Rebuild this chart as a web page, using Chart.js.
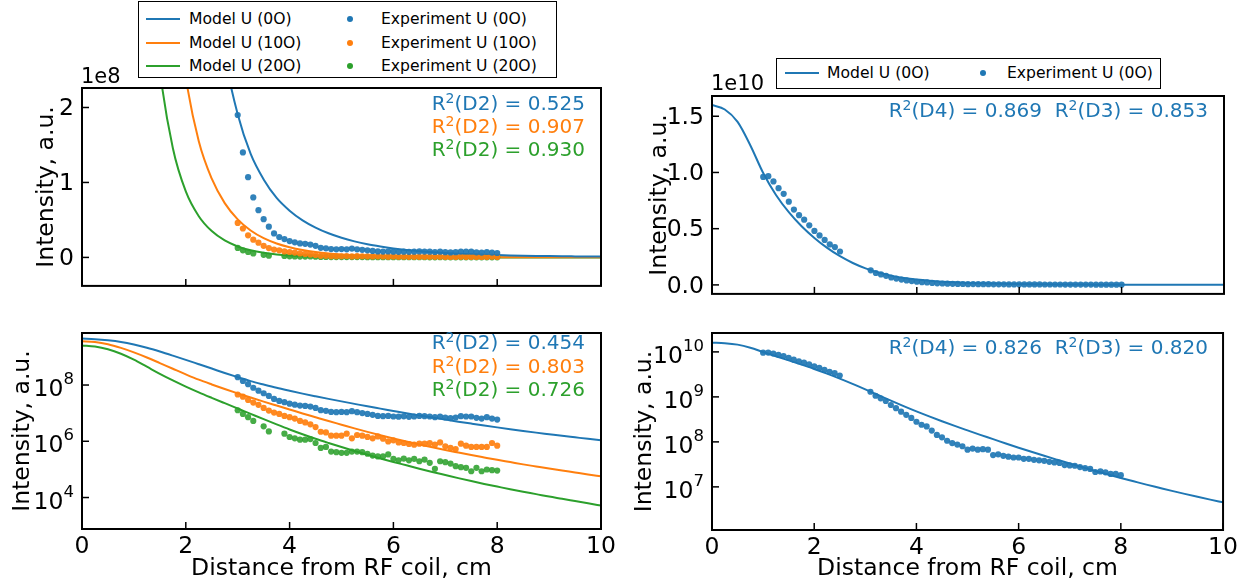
<!DOCTYPE html>
<html><head><meta charset="utf-8">
<script src="https://cdn.jsdelivr.net/npm/chart.js@4.4.1/dist/chart.umd.min.js"></script>
<style>
html,body{margin:0;padding:0;background:#fff;}
body{width:1242px;height:583px;position:relative;overflow:hidden;font-family:'DejaVu Sans',sans-serif;color:#000;}
canvas{position:absolute;}
.t{position:absolute;white-space:nowrap;line-height:20px;}
.r2{font-size:20px;text-align:right;}
.r2 sup{font-size:70%;vertical-align:0.5em;line-height:0;}
.off{font-size:21px;}
.lg{position:absolute;border:1.5px solid #000;background:#fff;box-sizing:border-box;}
.li{position:absolute;white-space:nowrap;font-size:15.6px;line-height:18px;}
.ln{position:absolute;height:2px;}
.dt{position:absolute;width:6px;height:6px;border-radius:50%;}
</style></head>
<body>
<canvas id="cTL" width="620" height="250" style="left:0;top:58px"></canvas>
<canvas id="cBL" width="620" height="270" style="left:0;top:313px"></canvas>
<canvas id="cTR" width="622" height="250" style="left:620px;top:66px"></canvas>
<canvas id="cBR" width="622" height="270" style="left:620px;top:313px"></canvas>

<!-- left legend -->
<div class="lg" style="left:138px;top:1px;width:419px;height:77px"></div>
<div class="ln" style="left:146px;top:18px;width:34px;background:#1f77b4"></div>
<div class="ln" style="left:146px;top:42px;width:34px;background:#ff7f0e"></div>
<div class="ln" style="left:146px;top:65px;width:34px;background:#2ca02c"></div>
<div class="li" style="left:189px;top:10px">Model U (0O)</div>
<div class="li" style="left:189px;top:34px">Model U (10O)</div>
<div class="li" style="left:189px;top:57px">Model U (20O)</div>
<div class="dt" style="left:347px;top:16px;background:#1f77b4"></div>
<div class="dt" style="left:347px;top:40px;background:#ff7f0e"></div>
<div class="dt" style="left:347px;top:63px;background:#2ca02c"></div>
<div class="li" style="left:381px;top:10px">Experiment U (0O)</div>
<div class="li" style="left:381px;top:34px">Experiment U (10O)</div>
<div class="li" style="left:381px;top:57px">Experiment U (20O)</div>

<!-- right legend -->
<div class="lg" style="left:776px;top:58px;width:385px;height:31px"></div>
<div class="ln" style="left:785px;top:72px;width:34px;background:#1f77b4"></div>
<div class="li" style="left:827px;top:64px">Model U (0O)</div>
<div class="dt" style="left:980px;top:70px;background:#1f77b4"></div>
<div class="li" style="left:1007px;top:64px">Experiment U (0O)</div>

<!-- offsets -->
<div class="t off" style="left:81px;top:66px">1e8</div>
<div class="t off" style="left:711px;top:73px">1e10</div>

<!-- R2 annotations -->
<div class="t r2" style="right:657px;top:93px;color:#1f77b4">R<sup>2</sup>(D2) = 0.525</div>
<div class="t r2" style="right:657px;top:116px;color:#ff7f0e">R<sup>2</sup>(D2) = 0.907</div>
<div class="t r2" style="right:657px;top:139px;color:#2ca02c">R<sup>2</sup>(D2) = 0.930</div>
<div class="t r2" style="right:657px;top:332px;color:#1f77b4">R<sup>2</sup>(D2) = 0.454</div>
<div class="t r2" style="right:657px;top:356px;color:#ff7f0e">R<sup>2</sup>(D2) = 0.803</div>
<div class="t r2" style="right:657px;top:379px;color:#2ca02c">R<sup>2</sup>(D2) = 0.726</div>
<div class="t r2" style="right:34px;top:100px;color:#1f77b4">R<sup>2</sup>(D4) = 0.869&nbsp;&nbsp;R<sup>2</sup>(D3) = 0.853</div>
<div class="t r2" style="right:34px;top:337px;color:#1f77b4">R<sup>2</sup>(D4) = 0.826&nbsp;&nbsp;R<sup>2</sup>(D3) = 0.820</div>

<script>
// ---------- data ----------
const xModel = [0,0.25,0.5,0.75,1,1.25,1.5,1.75,2,2.25,2.5,2.75,3,3.25,3.5,3.75,4,4.25,4.5,4.75,5,5.25,5.5,5.75,6,6.25,6.5,6.75,7,7.25,7.5,7.75,8,8.25,8.5,8.75,9,9.25,9.5,9.75,10];
const modelU0 = [4.47e9,4.27e9,3.89e9,3.39e9,2.75e9,2.11e9,1.55e9,1.11e9,7.85e8,5.50e8,3.85e8,2.69e8,1.91e8,1.38e8,1.04e8,7.94e7,6.24e7,4.95e7,3.98e7,3.22e7,2.62e7,2.14e7,1.75e7,1.45e7,1.20e7,9.95e6,8.32e6,6.98e6,5.89e6,4.99e6,4.25e6,3.63e6,3.12e6,2.69e6,2.33e6,2.03e6,1.78e6,1.56e6,1.38e6,1.22e6,1.09e6];
const modelU10 = [3.63e9,3.39e9,2.82e9,2.09e9,1.45e9,9.55e8,6.03e8,3.80e8,2.40e8,1.55e8,1.05e8,7.24e7,5.07e7,3.59e7,2.57e7,1.86e7,1.35e7,9.77e6,7.16e6,5.25e6,3.89e6,2.88e6,2.16e6,1.64e6,1.26e6,9.77e5,7.67e5,6.10e5,4.90e5,3.98e5,3.24e5,2.66e5,2.19e5,1.82e5,1.51e5,1.27e5,1.07e5,9.12e4,7.76e4,6.61e4,5.69e4];
const modelU20 = [2.57e9,2.34e9,1.86e9,1.29e9,7.94e8,4.47e8,2.51e8,1.46e8,8.81e7,5.50e7,3.51e7,2.26e7,1.46e7,9.44e6,6.10e6,3.98e6,2.63e6,1.78e6,1.23e6,8.71e5,6.24e5,4.52e5,3.31e5,2.45e5,1.84e5,1.40e5,1.06e5,8.13e4,6.31e4,4.90e4,3.85e4,3.05e4,2.45e4,1.97e4,1.60e4,1.32e4,1.08e4,9.02e3,7.50e3,6.24e3,5.19e3];

const xExp = [3.0,3.1,3.2,3.3,3.4,3.5,3.6,3.7,3.8,3.9,4.0,4.1,4.2,4.3,4.4,4.5,4.6,4.7,4.8,4.9,5.0,5.1,5.2,5.3,5.4,5.5,5.6,5.7,5.8,5.9,6.0,6.1,6.2,6.3,6.4,6.5,6.6,6.7,6.8,6.9,7.0,7.1,7.2,7.3,7.4,7.5,7.6,7.7,7.8,7.9,8.0];
const expU0 = [1.9e8,1.4e8,1.07e8,8.0e7,6.3e7,5.1e7,4.1e7,3.2e7,2.72e7,2.45e7,2.18e7,2.01e7,1.86e7,1.81e7,1.71e7,1.54e7,1.28e7,1.21e7,1.11e7,1.08e7,1.11e7,1.08e7,1.18e7,1.08e7,1.01e7,9.4e6,8.7e6,8.0e6,7.8e6,8.0e6,7.6e6,7.5e6,7.7e6,7.4e6,7.6e6,8.0e6,7.8e6,7.6e6,7.2e6,7.6e6,7.0e6,6.7e6,7.0e6,7.8e6,7.6e6,7.6e6,6.8e6,6.4e6,7.2e6,6.4e6,5.9e6];
const expU10 = [4.6e7,3.86e7,2.95e7,2.37e7,1.97e7,1.54e7,1.24e7,1.05e7,9.4e6,8.0e6,7.2e6,6.4e6,5.3e6,4.7e6,4.0e6,3.2e6,2.18e6,2.06e6,1.58e6,1.58e6,1.58e6,1.86e6,1.27e6,1.67e6,1.58e6,1.43e6,1.27e6,1.49e6,1.24e6,9.9e5,1.08e6,9.1e5,8.7e5,8.0e5,7.6e5,8.2e5,8.2e5,8.7e5,7.6e5,9.1e5,6.6e5,5.8e5,5.3e5,8.2e5,7.0e5,6.3e5,6.3e5,6.3e5,6.3e5,8.7e5,7.0e5];
const expU20 = [1.27e7,9.4e6,7.2e6,5.3e6,null,3.4e6,2.24e6,null,null,1.86e6,1.42e6,1.27e6,1.14e6,1.14e6,1.2e6,8.7e5,5.8e5,6.3e5,4.3e5,4.1e5,3.9e5,3.9e5,4.3e5,4.3e5,4.1e5,3.6e5,3.1e5,2.9e5,2.9e5,3.4e5,2.37e5,2.1e5,2.43e5,2.1e5,2.37e5,1.95e5,2.24e5,1.71e5,1.05e5,1.95e5,1.8e5,1.61e5,1.3e5,1.2e5,1.14e5,8.6e4,1.14e5,8.6e4,9.9e4,9.4e4,9.1e4];

const modelR = [1.60e10,1.56e10,1.45e10,1.24e10,9.95e9,8.0e9,6.47e9,5.22e9,4.18e9,3.29e9,2.55e9,1.95e9,1.47e9,1.10e9,8.24e8,6.22e8,4.75e8,3.68e8,2.88e8,2.27e8,1.80e8,1.43e8,1.15e8,9.2e7,7.43e7,6.03e7,4.91e7,4.02e7,3.30e7,2.73e7,2.26e7,1.89e7,1.58e7,1.33e7,1.12e7,9.55e6,8.15e6,6.98e6,6.01e6,5.2e6,4.52e6];
const xExpR = [1.0,1.1,1.2,1.3,1.4,1.5,1.6,1.7,1.8,1.9,2.0,2.1,2.2,2.3,2.4,2.5,3.1,3.2,3.3,3.4,3.5,3.6,3.7,3.8,3.9,4.0,4.1,4.2,4.3,4.4,4.5,4.6,4.7,4.8,4.9,5.0,5.1,5.2,5.3,5.4,5.5,5.6,5.7,5.8,5.9,6.0,6.1,6.2,6.3,6.4,6.5,6.6,6.7,6.8,6.9,7.0,7.1,7.2,7.3,7.4,7.5,7.6,7.7,7.8,7.9,8.0];
const expR = [9.6e9,9.67e9,9.2e9,8.6e9,8.1e9,7.4e9,6.7e9,6.2e9,5.8e9,5.3e9,4.8e9,4.4e9,4.0e9,3.6e9,3.36e9,2.97e9,1.30e9,1.06e9,9.3e8,8.1e8,6.6e8,5.6e8,4.7e8,4.0e8,3.4e8,2.8e8,2.4e8,2.2e8,1.78e8,1.43e8,1.26e8,1.06e8,9.4e7,8.7e7,8.0e7,6.7e7,7.1e7,6.7e7,6.9e7,6.7e7,5.1e7,5.3e7,4.9e7,4.7e7,4.5e7,4.5e7,4.2e7,4.2e7,4.0e7,3.9e7,3.8e7,3.6e7,3.5e7,3.4e7,3.05e7,3.0e7,2.95e7,2.76e7,2.6e7,2.5e7,2.14e7,2.2e7,2.1e7,1.94e7,1.94e7,1.82e7];

// ---------- ticks ----------
const xTicks = [0,2,4,6,8,10];
const xTickLabels = ['0','2','4','6','8','10'];
const yTicksTL = [0,1e8,2e8];
const yTickLabelsTL = ['0','1','2'];
const yTicksBL = [1e4,1e6,1e8];
const yTickLabelsBL = ['10^4','10^6','10^8'];
const yTicksTR = [0,0.5e10,1.0e10,1.5e10];
const yTickLabelsTR = ['0.0','0.5','1.0','1.5'];
const yTicksBR = [1e7,1e8,1e9,1e10];
const yTickLabelsBR = ['10^7','10^8','10^9','10^10'];

const C0='#1f77b4', C1='#ff7f0e', C2='#2ca02c';
const C0a='rgba(31,119,180,0.92)', C1a='rgba(255,127,14,0.92)', C2a='rgba(44,160,44,0.88)';
const FS = 23.5;

Chart.defaults.font.family = "'DejaVu Sans', sans-serif";
Chart.defaults.color = '#000';
Chart.defaults.animation = false;

const xy = (xs, ys) => xs.map((x,i)=>({x:x, y:ys[i]}));

const framePlugin = {
  id:'frame',
  afterDraw(chart, args, o){
    const {ctx, chartArea:a, scales} = chart;
    ctx.save();
    ctx.strokeStyle = '#000';
    ctx.lineWidth = 1.5;
    const tl = 7;
    o.xTicks.forEach(v=>{
      const p = scales.x.getPixelForValue(v);
      ctx.beginPath(); ctx.moveTo(p, a.bottom); ctx.lineTo(p, a.bottom - tl); ctx.stroke();
    });
    o.yTicks.forEach(v=>{
      const p = scales.y.getPixelForValue(v);
      ctx.beginPath(); ctx.moveTo(a.left, p); ctx.lineTo(a.left + tl, p); ctx.stroke();
    });
    ctx.lineWidth = 2;
    ctx.strokeRect(a.left, a.top, a.right - a.left, a.bottom - a.top);
    if (o.logLabels) {
      ctx.fillStyle = '#000';
      ctx.textAlign = 'right';
      ctx.textBaseline = 'alphabetic';
      o.yTicks.forEach((v,i)=>{
        const parts = o.logLabels[i].split('^');
        const p = scales.y.getPixelForValue(v);
        const xr = a.left - 8;
        ctx.font = "16.5px 'DejaVu Sans'";
        ctx.fillText(parts[1], xr, p - 1);
        const ew = ctx.measureText(parts[1]).width;
        ctx.font = FS + "px 'DejaVu Sans'";
        ctx.fillText(parts[0], xr - ew, p + 11);
      });
    }
    ctx.restore();
  }
};

function lineDs(xs, ys, color){
  return {type:'scatter', data: xy(xs, ys), showLine:true, borderColor:color, backgroundColor:color,
          borderWidth:2, pointRadius:0, pointHoverRadius:0, cubicInterpolationMode:'monotone', clip:0, order:2};
}
function dotDs(xs, ys, color){
  return {type:'scatter', data: xy(xs, ys), showLine:false, backgroundColor:color, borderWidth:0,
          pointRadius:3.1, pointHoverRadius:3.1, order:1};
}

function makeChart(id, o){
  return new Chart(document.getElementById(id), {
    type:'scatter',
    data:{datasets:o.datasets},
    options:{
      responsive:false, animation:false, events:[],
      layout:{padding:o.padding},
      plugins:{legend:{display:false}, tooltip:{enabled:false},
               frame:{xTicks:xTicks, yTicks:o.yTicks, logLabels:o.logLabels}},
      scales:{
        x:{type:'linear', min:0, max:10,
           afterBuildTicks:s=>{ s.ticks = xTicks.map(v=>({value:v})); },
           ticks:{display:o.xLabels, padding:4, font:{size:FS}, maxRotation:0, autoSkip:false,
                  callback:v=>xTickLabels[xTicks.indexOf(v)]},
           grid:{display:false, drawTicks:false}, border:{display:false},
           title:{display:o.xLabels, text:'Distance from RF coil, cm', font:{size:FS, lineHeight:1.2}, padding:{top:0,bottom:0}},
           afterFit:s=>{ s.height = o.xH; }},
        y:{type:o.yType, min:o.yMin, max:o.yMax,
           afterBuildTicks:s=>{ s.ticks = o.yTicks.map(v=>({value:v})); },
           ticks:{display:!o.logLabels, padding:8, labelOffset:1.5, font:{size:FS}, autoSkip:false,
                  callback:v=>(o.yLabels ? o.yLabels[o.yTicks.indexOf(v)] : '')},
           grid:{display:false, drawTicks:false}, border:{display:false},
           title:{display:true, text:'Intensity, a.u.', font:{size:FS, lineHeight:1.2}, padding:{top:o.yTitlePad,bottom:0}},
           afterFit:s=>{ s.width = o.yW; }}
      }
    },
    plugins:[framePlugin]
  });
}

const leftSets = () => [
  lineDs(xModel, modelU0, C0), lineDs(xModel, modelU10, C1), lineDs(xModel, modelU20, C2),
  dotDs(xExp, expU0, C0a), dotDs(xExp, expU10, C1a), dotDs(xExp, expU20, C2a)
];
const rightSets = () => [ lineDs(xModel, modelR, C0), dotDs(xExpR, expR, C0a) ];

makeChart('cTL', {datasets:leftSets(), padding:{left:0,top:30,right:19,bottom:19}, xLabels:false, xH:0,
  yType:'linear', yMin:-0.38e8, yMax:2.26e8, yTicks:yTicksTL, yLabels:yTickLabelsTL, yW:82, yTitlePad:33});
makeChart('cBL', {datasets:leftSets(), padding:{left:0,top:20,right:19,bottom:0}, xLabels:true, xH:54,
  yType:'logarithmic', yMin:7.6e2, yMax:7.08e9, yTicks:yTicksBL, logLabels:yTickLabelsBL, yW:82, yTitlePad:9});
makeChart('cTR', {datasets:rightSets(), padding:{left:0,top:30,right:18,bottom:22}, xLabels:false, xH:0,
  yType:'linear', yMin:-0.08e10, yMax:1.68e10, yTicks:yTicksTR, yLabels:yTickLabelsTR, yW:92, yTitlePad:26});
makeChart('cBR', {datasets:rightSets(), padding:{left:0,top:20,right:18,bottom:0}, xLabels:true, xH:53,
  yType:'logarithmic', yMin:1.1e6, yMax:2.63e10, yTicks:yTicksBR, logLabels:yTickLabelsBR, yW:92, yTitlePad:11});
</script>
</body></html>
